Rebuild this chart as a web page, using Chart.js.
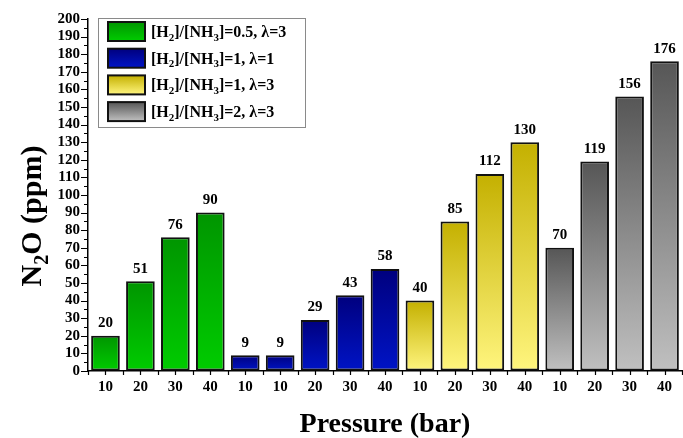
<!DOCTYPE html>
<html><head><meta charset="utf-8">
<script src="https://cdn.jsdelivr.net/npm/chart.js@4"></script>
<style>html,body{margin:0;padding:0;background:#fff}#wrap{width:683px;height:438px}</style>
</head><body><div id="wrap"><canvas id="c" width="683" height="438"></canvas></div>
<script>
// ---- data ----
const categories = ['10','20','30','40','10','10','20','30','40','10','20','30','40','10','20','30','40'];
const seriesLabels = ['[H₂]/[NH₃]=0.5, λ=3','[H₂]/[NH₃]=1, λ=1','[H₂]/[NH₃]=1, λ=3','[H₂]/[NH₃]=2, λ=3'];
const greenValues  = [20,51,76,90,null,null,null,null,null,null,null,null,null,null,null,null,null];
const blueValues   = [null,null,null,null,9,9,29,43,58,null,null,null,null,null,null,null,null];
const yellowValues = [null,null,null,null,null,null,null,null,null,40,85,112,130,null,null,null,null];
const grayValues   = [null,null,null,null,null,null,null,null,null,null,null,null,null,70,119,156,176];
const yMin = 0, yMax = 200, yStep = 10;
const xTitle = 'Pressure (bar)';
const yTitle = 'N₂O (ppm)';

// ---- styles ----
const gradColors = [['#009500','#00cc00'],['#00007e','#0014c6'],['#c4b000','#fff57e'],['#565656','#c0c0c0']];
const FONT = "'Liberation Serif', 'Times New Roman', serif";

function barGradient(idx){
  return (ctx)=>{
    const chart = ctx.chart, y = chart.scales.y;
    if (!y || ctx.raw == null || y.top === undefined) return gradColors[idx][0];
    const top = y.getPixelForValue(ctx.raw), bot = y.getPixelForValue(0);
    if (!isFinite(top) || !isFinite(bot) || top === bot) return gradColors[idx][0];
    const g = chart.ctx.createLinearGradient(0, top, 0, bot);
    g.addColorStop(0, gradColors[idx][0]);
    g.addColorStop(1, gradColors[idx][1]);
    return g;
  };
}

const allSeries = [greenValues, blueValues, yellowValues, grayValues];
const datasets = allSeries.map((vals,i)=>({
  label: seriesLabels[i],
  data: vals,
  backgroundColor: barGradient(i),
  borderColor: '#111',
  borderWidth: 2,
  borderSkipped: false,
  barPercentage: 0.82,
  categoryPercentage: 1.0
}));

function drawRich(ctx, text, x, y, size, align){
  const subMap = {'₂':'2','₃':'3'};
  const segs = [];
  for (const ch of text){
    const sub = subMap[ch] !== undefined;
    const t = sub ? subMap[ch] : ch;
    if (segs.length && segs[segs.length-1].sub === sub) segs[segs.length-1].t += t;
    else segs.push({t, sub});
  }
  const fontN = 'bold ' + size + 'px ' + FONT;
  const fontS = 'bold ' + Math.round(size*0.68) + 'px ' + FONT;
  let total = 0;
  for (const s of segs){ ctx.font = s.sub ? fontS : fontN; s.w = ctx.measureText(s.t).width; total += s.w; }
  let cx = align === 'center' ? x - total/2 : x;
  ctx.textAlign = 'left';
  ctx.textBaseline = 'alphabetic';
  for (const s of segs){
    ctx.font = s.sub ? fontS : fontN;
    ctx.fillText(s.t, cx, s.sub ? y + size*0.22 : y);
    cx += s.w;
  }
  return total;
}

const extras = {
  id: 'extras',
  afterDraw(chart){
    const ctx = chart.ctx, ca = chart.chartArea;
    const xs = chart.scales.x, ys = chart.scales.y;
    ctx.save();
    ctx.strokeStyle = '#000'; ctx.lineWidth = 1.2;
    const n = categories.length, cw = (ca.right - ca.left)/n;
    ctx.beginPath();
    for (let i=0;i<=n;i++){ const px = Math.round(ca.left + i*cw)+0.5; ctx.moveTo(px, ca.bottom); ctx.lineTo(px, ca.bottom+4); }
    for (let i=0;i<n;i++){ const px = Math.round(xs.getPixelForTick(i))+0.5; ctx.moveTo(px, ca.bottom); ctx.lineTo(px, ca.bottom+4); }
    for (let v=yMin; v<=yMax; v+=yStep/2){
      const py = Math.round(ys.getPixelForValue(v))+0.5;
      const len = (v % yStep === 0) ? 7 : 4;
      ctx.moveTo(ca.left - len, py); ctx.lineTo(ca.left, py);
    }
    ctx.stroke();

    // value labels
    ctx.fillStyle = '#000';
    ctx.font = 'bold 15px ' + FONT;
    ctx.textAlign = 'center'; ctx.textBaseline = 'bottom';
    chart.data.datasets.forEach((ds, di)=>{
      const meta = chart.getDatasetMeta(di);
      meta.data.forEach((el, j)=>{
        const v = ds.data[j];
        if (v == null) return;
        ctx.fillText(String(v), el.x, el.y - 5);
      });
    });

    // legend box
    const bx = ca.left + 10, by = ca.top - 1, bw = 207, bh = 109;
    ctx.fillStyle = '#fff'; ctx.fillRect(bx, by, bw, bh);
    ctx.strokeStyle = '#8a8a8a'; ctx.lineWidth = 1;
    ctx.strokeRect(bx+0.5, by+0.5, bw, bh);
    seriesLabels.forEach((lab, i)=>{
      const sy = by + 4 + i*26.7, sx = bx + 10, sw = 37, sh = 19;
      const g = ctx.createLinearGradient(0, sy, 0, sy+sh);
      g.addColorStop(0, gradColors[i][0]); g.addColorStop(1, gradColors[i][1]);
      ctx.fillStyle = g; ctx.fillRect(sx, sy, sw, sh);
      ctx.strokeStyle = '#111'; ctx.lineWidth = 2; ctx.strokeRect(sx, sy, sw, sh);
      ctx.fillStyle = '#000';
      drawRich(ctx, lab, sx + sw + 6, sy + 15, 16, 'left');
    });

    // axis titles
    ctx.fillStyle = '#000';
    drawRich(ctx, xTitle, (ca.left + ca.right)/2, 432, 28, 'center');
    ctx.save();
    ctx.translate(41, 216);
    ctx.rotate(-Math.PI/2);
    drawRich(ctx, yTitle, 0, 0, 30, 'center');
    ctx.restore();
    ctx.restore();
  }
};

new Chart(document.getElementById('c'), {
  type: 'bar',
  data: { labels: categories, datasets },
  options: {
    responsive: false,
    animation: false,
    devicePixelRatio: 1,
    layout: { padding: { top: 19, right: 1, left: 0, bottom: 0 } },
    plugins: { legend: { display: false }, tooltip: { enabled: false } },
    scales: {
      x: {
        stacked: true, offset: true,
        grid: { display: true, drawOnChartArea: false, drawTicks: false },
        border: { display: true, color: '#000', width: 1.5 },
        ticks: { color: '#000', font: { family: FONT, size: 15, weight: 'bold' }, padding: 7, maxRotation: 0, autoSkip: false },
        afterFit: (s)=>{ s.height = 67; }
      },
      y: {
        stacked: true, min: yMin, max: yMax,
        grid: { display: true, drawOnChartArea: false, drawTicks: false },
        border: { display: true, color: '#000', width: 1.5 },
        ticks: { stepSize: yStep, autoSkip: false, color: '#000', font: { family: FONT, size: 15, weight: 'bold' }, padding: 8 },
        afterFit: (s)=>{ s.width = 88; }
      }
    }
  },
  plugins: [extras]
});
</script>
</body></html>
